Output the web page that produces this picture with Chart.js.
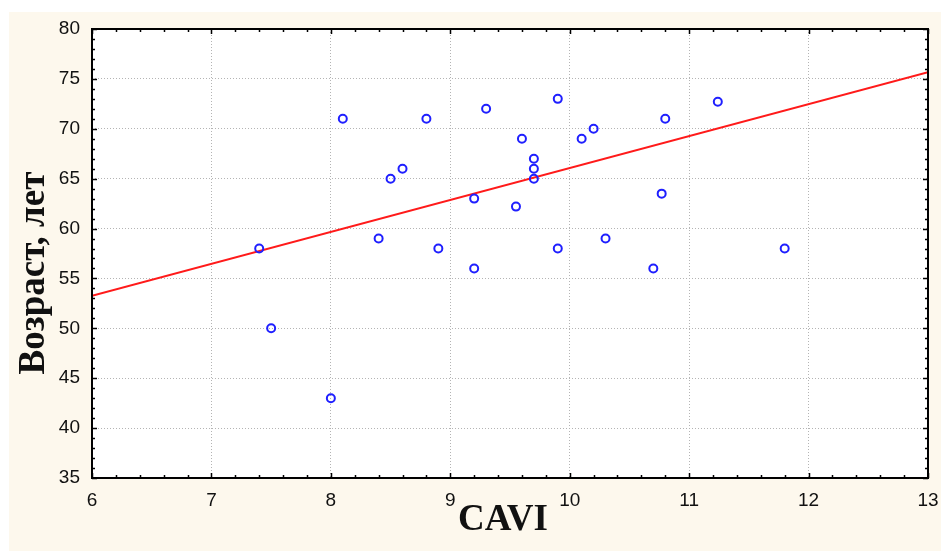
<!DOCTYPE html>
<html lang="ru">
<head>
    <meta charset="UTF-8">
    <title>CAVI и возраст</title>
    <script src="https://cdn.jsdelivr.net/npm/chart.js"></script>
    <style>
        body {
            margin: 0;
            background: #ffffff;
        }
        #wrap {
            position: relative;
            width: 941px;
            height: 551px;
        }
    </style>
</head>
<body>
    <div id="wrap"><canvas id="myChart"></canvas></div>

    <script>
        // точки: CAVI и возраст (лет)
        const cavi = [7.4, 7.5, 8.0, 8.1, 8.4, 8.5, 8.6, 8.8, 8.9, 9.2, 9.2, 9.3, 9.55, 9.6,
                      9.7, 9.7, 9.7, 9.9, 9.9, 10.1, 10.2, 10.3, 10.7, 10.77, 10.8, 11.24, 11.8];
        const age = [58, 50, 43, 71, 59, 65, 66, 71, 58, 63, 56, 72, 62.2, 69,
                     67, 66, 65, 73, 58, 69, 70, 59, 56, 63.5, 71, 72.7, 58];

        // линия регрессии (концы)
        const fitX = [6, 13];
        const fitY = [53.27, 75.66];

        const xTitle = 'CAVI';
        const yTitle = 'Возраст, лет';

        const tickFont = { family: 'Liberation Sans', size: 19 };
        const inkColor = '#111111';

        const framePlugin = {
            id: 'frame',
            beforeDraw(chart) {
                const ctx = chart.ctx;
                const a = chart.chartArea;
                ctx.save();
                ctx.fillStyle = '#ffffff';
                ctx.fillRect(0, 0, chart.width, chart.height);
                ctx.fillStyle = '#fdf8ed';
                ctx.fillRect(9, 12, chart.width - 9, chart.height - 12);
                ctx.fillStyle = '#ffffff';
                ctx.fillRect(a.left, a.top, a.right - a.left, a.bottom - a.top);
                ctx.restore();
            },
            afterDraw(chart) {
                const ctx = chart.ctx;
                const a = chart.chartArea;
                const xs = chart.scales.x;
                const ys = chart.scales.y;
                ctx.save();
                ctx.strokeStyle = '#000000';

                // ticks pointing inside, major and minor
                ctx.lineWidth = 1.5;
                ctx.beginPath();
                for (let i = 0; i <= 35; i++) {
                    const px = Math.round(xs.getPixelForValue(6 + i * 0.2)) + 0.5;
                    const len = i % 5 === 0 ? 5 : 3;
                    ctx.moveTo(px, a.bottom);
                    ctx.lineTo(px, a.bottom - len);
                    ctx.moveTo(px, a.top);
                    ctx.lineTo(px, a.top + len);
                }
                for (let v = 35; v <= 80; v++) {
                    const py = Math.round(ys.getPixelForValue(v)) + 0.5;
                    const len = v % 5 === 0 ? 5 : 3;
                    ctx.moveTo(a.left, py);
                    ctx.lineTo(a.left + len, py);
                    ctx.moveTo(a.right, py);
                    ctx.lineTo(a.right - len, py);
                }
                ctx.stroke();

                ctx.lineWidth = 2;
                ctx.strokeRect(a.left, a.top, a.right - a.left, a.bottom - a.top);

                // axis titles
                ctx.fillStyle = inkColor;
                ctx.font = 'bold 37px "Liberation Serif", "Times New Roman", serif';
                ctx.textAlign = 'center';
                ctx.textBaseline = 'alphabetic';
                ctx.fillText(xTitle, 503, 530);

                ctx.translate(44, 273);
                ctx.rotate(-Math.PI / 2);
                ctx.fillText(yTitle, 0, 0);
                ctx.restore();
            }
        };

        const ctx = document.getElementById('myChart').getContext('2d');
        new Chart(ctx, {
            type: 'scatter',
            data: {
                datasets: [
                    {
                        label: 'Данные',
                        data: cavi.map((x, i) => ({ x: x, y: age[i] })),
                        pointStyle: 'circle',
                        pointRadius: 4,
                        borderWidth: 2,
                        borderColor: '#1f1fff',
                        backgroundColor: 'rgba(0,0,0,0)'
                    },
                    {
                        type: 'line',
                        label: 'Регрессия',
                        data: fitX.map((x, i) => ({ x: x, y: fitY[i] })),
                        borderColor: '#ff1a1a',
                        borderWidth: 2,
                        pointRadius: 0,
                        fill: false
                    }
                ]
            },
            options: {
                responsive: true,
                maintainAspectRatio: false,
                animation: false,
                layout: {
                    padding: { top: 29, right: 13, left: 0, bottom: 0 }
                },
                plugins: {
                    legend: { display: false },
                    tooltip: { enabled: false }
                },
                scales: {
                    x: {
                        type: 'linear',
                        min: 6,
                        max: 13,
                        ticks: { stepSize: 1, font: tickFont, color: inkColor, padding: 11 },
                        grid: { color: '#b4b4b4', lineWidth: 1, drawTicks: false },
                        border: { display: false, dash: [1, 2] },
                        afterFit: s => {
                            s.height = 73;
                            s.paddingLeft = 0;
                            s.paddingRight = 0;
                        }
                    },
                    y: {
                        type: 'linear',
                        min: 35,
                        max: 80,
                        ticks: { stepSize: 5, font: tickFont, color: inkColor, padding: 12 },
                        grid: { color: '#b4b4b4', lineWidth: 1, drawTicks: false },
                        border: { display: false, dash: [1, 2] },
                        afterFit: s => {
                            s.width = 92;
                            s.paddingTop = 0;
                            s.paddingBottom = 0;
                        }
                    }
                }
            },
            plugins: [framePlugin]
        });
    </script>
</body>
</html>
